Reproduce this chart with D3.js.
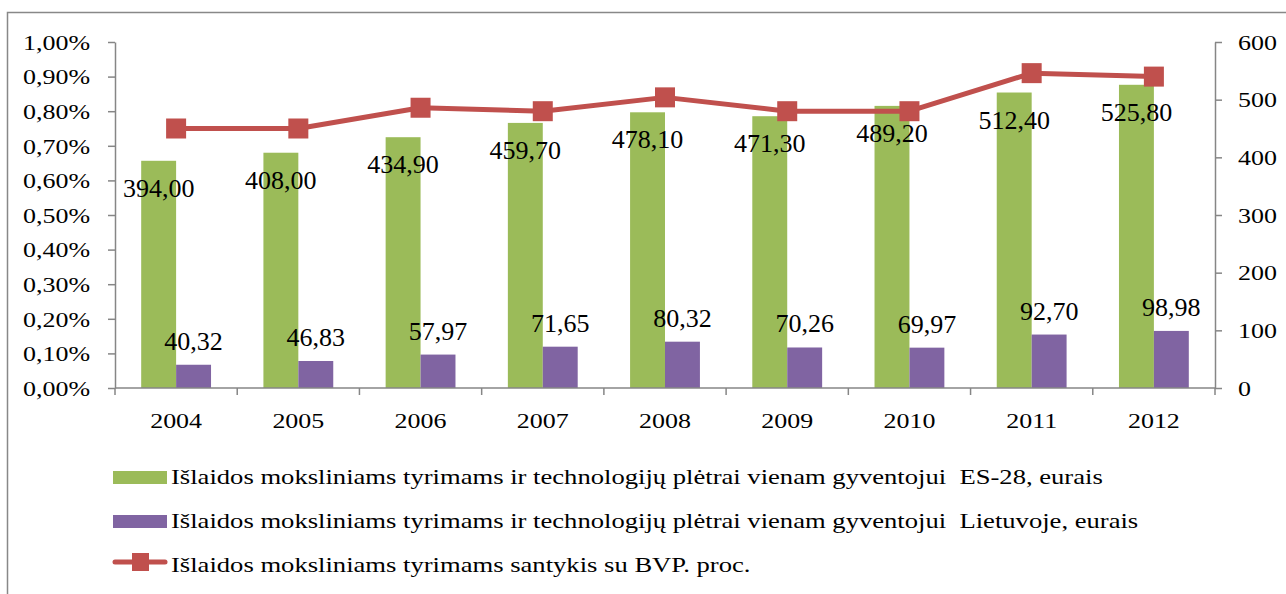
<!DOCTYPE html>
<html><head><meta charset="utf-8">
<script src="https://cdn.jsdelivr.net/npm/d3@7"></script>
<style>
body{margin:0;background:#fff;}
svg text{font-family:"Liberation Serif","DejaVu Serif",serif !important;fill:#000;}
</style></head>
<body><svg id="c" width="1286" height="594"></svg>
<script>
const years = ["2004","2005","2006","2007","2008","2009","2010","2011","2012"];
const esValues = [394.00,408.00,434.90,459.70,478.10,471.30,489.20,512.40,525.80];
const ltValues = [40.32,46.83,57.97,71.65,80.32,70.26,69.97,92.70,98.98];
const gdpShare = [0.0075,0.0075,0.0081,0.0080,0.0084,0.0080,0.0080,0.0091,0.0090];
const leftTicks = [0,0.001,0.002,0.003,0.004,0.005,0.006,0.007,0.008,0.009,0.01];
const rightTicks = [0,100,200,300,400,500,600];
const legendLabels = [
  "Išlaidos moksliniams tyrimams ir technologijų plėtrai vienam gyventojui  ES-28, eurais",
  "Išlaidos moksliniams tyrimams ir technologijų plėtrai vienam gyventojui  Lietuvoje, eurais",
  "Išlaidos moksliniams tyrimams santykis su BVP. proc."
];
const C = {green:"#9BBB59", purple:"#8064A2", red:"#C0504D", axis:"#868686"};
const fmt2 = v => v.toFixed(2).replace(".", ",");
const fmtPct = v => (v*100).toFixed(2).replace(".", ",") + "%";
const SX = 1.18;      // horizontal stretch of axis text
const SXL = 1.21;     // horizontal stretch of legend text

const svg = d3.select("#c");
const L = 115, R = 1215, T = 42, B = 388;
svg.append("rect").attr("x",7.5).attr("y",12.5).attr("width",1300).attr("height",600)
  .attr("fill","none").attr("stroke","#888").attr("stroke-width",1.5);

const x = d3.scaleBand().domain(years).range([L,R]).padding(0);
const yL = d3.scaleLinear().domain([0,0.01]).range([B,T]);
const yR = d3.scaleLinear().domain([0,600]).range([B,T]);
const bw = x.bandwidth()/3.5;

function stretch(sel, s){
  sel.each(function(){
    const t = d3.select(this);
    const tx = +t.attr("x") || 0, ty = +t.attr("y") || 0;
    t.attr("x",0).attr("y",0).attr("transform",`translate(${tx},${ty}) scale(${s},1)`);
  });
}

// axes
const gl = svg.append("g").attr("transform",`translate(${L},0)`)
  .call(d3.axisLeft(yL).tickValues(leftTicks).tickFormat(fmtPct).tickSizeInner(7).tickSizeOuter(0).tickPadding(18));
const gr = svg.append("g").attr("transform",`translate(${R},0)`)
  .call(d3.axisRight(yR).tickValues(rightTicks).tickFormat(d3.format("d")).tickSizeInner(7).tickSizeOuter(0).tickPadding(16));
[gl,gr].forEach(g=>{
  g.attr("font-family",null);
  g.selectAll("path,line").attr("stroke",C.axis).attr("stroke-width",1.5);
  g.selectAll("text").style("font-size","22px").attr("dy",null).attr("dominant-baseline","central");
  stretch(g.selectAll("text"), SX);
});

// bars
svg.append("g").selectAll("rect").data(years).join("rect")
  .attr("x",d=>x(d)+x.bandwidth()/2-bw).attr("width",bw)
  .attr("y",(d,i)=>yR(esValues[i])).attr("height",(d,i)=>B-yR(esValues[i]))
  .attr("fill",C.green);
svg.append("g").selectAll("rect").data(years).join("rect")
  .attr("x",d=>x(d)+x.bandwidth()/2).attr("width",bw)
  .attr("y",(d,i)=>yR(ltValues[i])).attr("height",(d,i)=>B-yR(ltValues[i]))
  .attr("fill",C.purple);

// x axis
const gx = svg.append("g");
gx.append("line").attr("x1",L).attr("x2",R).attr("y1",B).attr("y2",B).attr("stroke",C.axis).attr("stroke-width",1.5);
gx.selectAll("line.t").data(years.concat(["end"])).join("line").attr("class","t")
  .attr("x1",(d,i)=>L+i*x.bandwidth()).attr("x2",(d,i)=>L+i*x.bandwidth())
  .attr("y1",B).attr("y2",B+7).attr("stroke",C.axis).attr("stroke-width",1.5);
gx.selectAll("text").data(years).join("text")
  .attr("x",d=>x(d)+x.bandwidth()/2).attr("y",428).attr("text-anchor","middle")
  .style("font-size","22px").text(d=>d);
stretch(gx.selectAll("text"), SX);

// line
const line = d3.line().x((d,i)=>x(years[i])+x.bandwidth()/2).y(d=>yL(d));
svg.append("path").datum(gdpShare).attr("d",line).attr("fill","none")
  .attr("stroke",C.red).attr("stroke-width",5).attr("stroke-linejoin","round");
svg.append("g").selectAll("rect").data(gdpShare).join("rect")
  .attr("x",(d,i)=>x(years[i])+x.bandwidth()/2-10).attr("y",d=>yL(d)-10)
  .attr("width",20).attr("height",20).attr("fill",C.red);

// data labels
svg.append("g").selectAll("text").data(esValues).join("text")
  .attr("x",(d,i)=>x(years[i])+x.bandwidth()/2-bw/2).attr("y",d=>yR(d)+36)
  .attr("text-anchor","middle").style("font-size","26px").text(fmt2);
svg.append("g").selectAll("text").data(ltValues).join("text")
  .attr("x",(d,i)=>x(years[i])+x.bandwidth()/2+bw/2).attr("y",d=>yR(d)-15)
  .attr("text-anchor","middle").style("font-size","26px").text(fmt2);

// legend
const lg = svg.append("g");
const rows = [484,528,572];
lg.append("rect").attr("x",113).attr("y",471).attr("width",54).attr("height",13).attr("fill",C.green);
lg.append("rect").attr("x",113).attr("y",515).attr("width",54).attr("height",13).attr("fill",C.purple);
lg.append("line").attr("x1",115).attr("x2",165).attr("y1",562).attr("y2",562).attr("stroke",C.red).attr("stroke-width",5).attr("stroke-linecap","round");
lg.append("rect").attr("x",132).attr("y",553).attr("width",17).attr("height",18).attr("fill",C.red);
const lt = lg.selectAll("text").data(legendLabels).join("text")
  .attr("x",171).attr("y",(d,i)=>rows[i]).style("font-size","22px")
  .style("white-space","pre").text(d=>d);
stretch(lt, SXL);
</script></body></html>
